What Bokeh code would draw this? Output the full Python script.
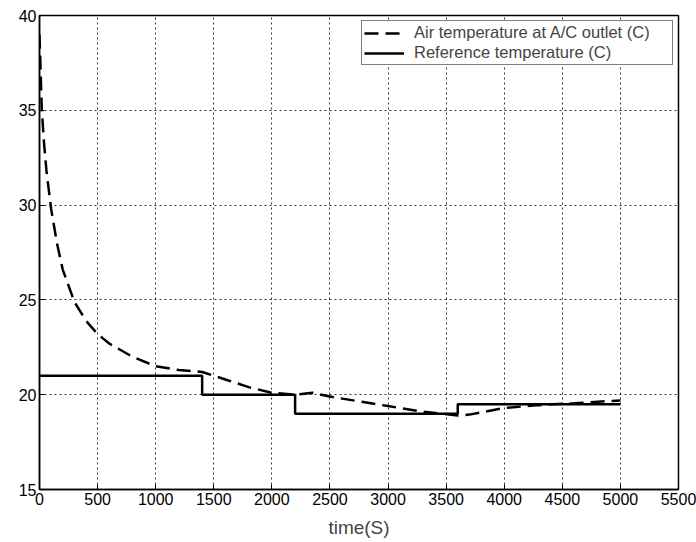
from bokeh.plotting import figure
from bokeh.models import FixedTicker, Range1d, Legend, LegendItem
from bokeh.embed import file_html
from bokeh.resources import INLINE

# Data
air_t = [0, 10, 20, 40, 60, 100, 150, 200, 300, 400, 500, 600, 800, 1000, 1200,
         1400, 1600, 1800, 2000, 2200, 2350, 2500, 2800, 3000, 3300, 3600, 3700,
         4000, 4300, 4600, 5000]
air_temp = [39.0, 37.0, 35.0, 33.2, 31.8, 29.8, 28.0, 26.6, 24.9, 23.9, 23.2, 22.7,
            22.0, 21.5, 21.3, 21.2, 20.8, 20.4, 20.1, 20.0, 20.1, 19.9, 19.6, 19.4,
            19.1, 18.9, 18.95, 19.3, 19.45, 19.55, 19.7]
ref_t = [0, 1400, 1400, 2200, 2200, 3600, 3600, 5000]
ref_temp = [21, 21, 20, 20, 19, 19, 19.5, 19.5]
x_ticks = list(range(0, 5501, 500))
y_ticks = [15, 20, 25, 30, 35, 40]
x_label = "time(S)"

FONT = "Liberation Sans"

p = figure(width=696, height=542, output_backend="svg", toolbar_location=None,
           x_range=Range1d(0, 5500), y_range=Range1d(15, 40),
           min_border_left=39, min_border_top=15, min_border_right=18,
           min_border_bottom=53)
p.background_fill_color = "white"
p.border_fill_color = "white"
p.outline_line_color = "black"
p.outline_line_width = 1.5

for ax in (p.xaxis[0], p.yaxis[0]):
    ax.major_label_text_font = FONT
    ax.major_label_text_font_size = "16px"
    ax.major_label_text_color = "black"
    ax.axis_line_color = "black"
    ax.axis_line_width = 1.5
    ax.major_tick_in = 5
    ax.major_tick_out = 0
    ax.minor_tick_line_color = None
    ax.major_tick_line_color = "black"
    ax.major_label_standoff = 3
p.xaxis[0].ticker = FixedTicker(ticks=x_ticks)
p.yaxis[0].ticker = FixedTicker(ticks=y_ticks)
p.xaxis[0].axis_label = x_label
p.xaxis[0].axis_label_text_font = FONT
p.xaxis[0].axis_label_text_font_style = "normal"
p.xaxis[0].axis_label_text_font_size = "19px"
p.xaxis[0].axis_label_standoff = 9

p.xgrid[0].ticker = FixedTicker(ticks=x_ticks)
p.ygrid[0].ticker = FixedTicker(ticks=y_ticks)
for g in (p.xgrid[0], p.ygrid[0]):
    g.grid_line_color = "black"
    g.grid_line_dash = "2 3"
    g.grid_line_width = 1
    g.grid_line_alpha = 0.8

r_air = p.line(air_t, air_temp, line_color="black", line_width=2.5, line_dash="14 7")
r_ref = p.line(ref_t, ref_temp, line_color="black", line_width=2.5)

legend = Legend(items=[LegendItem(label="Air temperature at A/C outlet (C)", renderers=[r_air]),
                       LegendItem(label="Reference temperature (C)", renderers=[r_ref])],
                location="top_right")
legend.label_text_font = FONT
legend.label_text_font_size = "16.5px"
legend.label_height = 18
legend.glyph_height = 18
legend.glyph_width = 40
legend.label_width = 256
legend.label_standoff = 10
legend.spacing = 1
legend.padding = 2
legend.margin = 5
legend.border_line_color = "black"
legend.border_line_width = 1
legend.background_fill_alpha = 1.0
p.add_layout(legend)

open("out.html", "w").write(file_html(p, INLINE))
